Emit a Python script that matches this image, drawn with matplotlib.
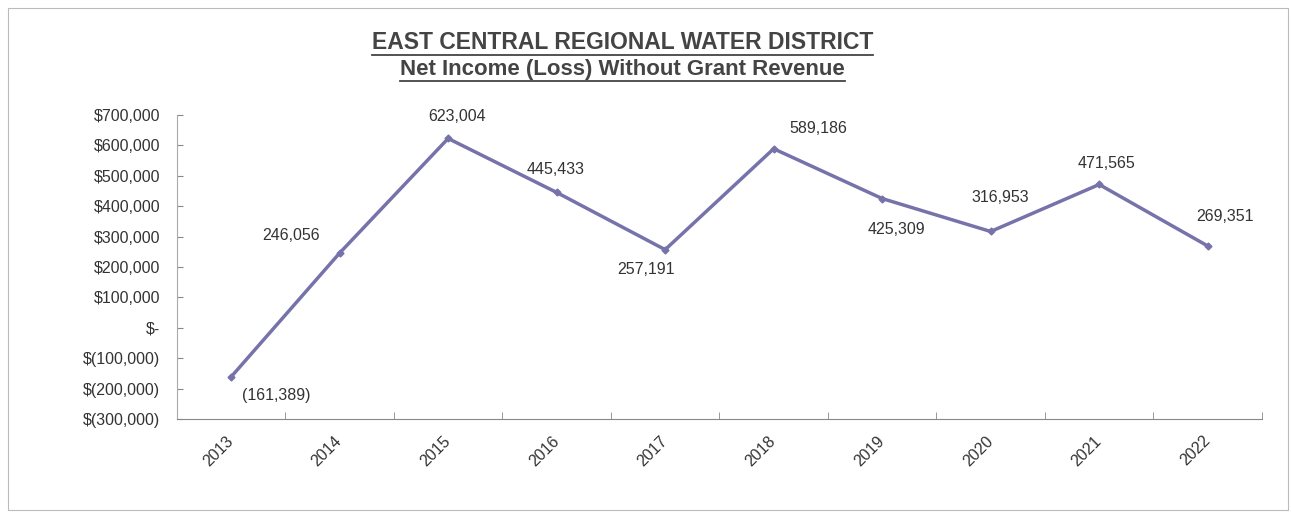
import matplotlib.pyplot as plt
from matplotlib.patches import Rectangle
from matplotlib.lines import Line2D

plt.rcParams['font.family'] = ['Liberation Sans', 'DejaVu Sans']

############## Dados ####################

years = ['2013', '2014', '2015', '2016', '2017', '2018', '2019', '2020', '2021', '2022']
net_income = [-161389, 246056, 623004, 445433, 257191, 589186, 425309, 316953, 471565, 269351]
label_offsets = [(45, -19), (-49, 18), (9, 22), (-1, 23), (-19, -20),
                 (45, 20), (14, -31), (10, 34), (7, 21), (17, 29)]
yticks = [-300000, -200000, -100000, 0, 100000, 200000, 300000, 400000, 500000, 600000, 700000]

title1 = 'EAST CENTRAL REGIONAL WATER DISTRICT'
title2 = 'Net Income (Loss) Without Grant Revenue'

############## Dados ####################


def money(v):
    if v == 0:
        return '$-'
    if v < 0:
        return '$({:,})'.format(-v)
    return '${:,}'.format(v)


def accounting(v):
    if v < 0:
        return '({:,})'.format(-v)
    return '{:,}'.format(v)


fig = plt.figure(figsize=(12.91, 5.16), dpi=100)
ax = fig.add_axes([0.137, 0.188, 0.8405, 0.589])

x = list(range(len(years)))
line_color = '#7673ab'
ax.plot(x, net_income, color=line_color, linewidth=2.5, marker='D', markersize=3.5,
        markerfacecolor=line_color, markeredgecolor=line_color)

for i, v in enumerate(net_income):
    ax.annotate(accounting(v), xy=(i, v), xytext=label_offsets[i], textcoords='offset pixels',
                ha='center', va='center', fontsize=11.5, color='#333333')

ax.set_xlim(-0.5, len(years) - 0.5)
ax.set_ylim(-300000, 700000)
ax.set_yticks(yticks)
ax.set_yticklabels([money(v) for v in yticks], fontsize=11.5, color='#333333')
ax.set_xticks(x)
ax.set_xticklabels(years, rotation=45, fontsize=11.5, color='#333333', ha='right',
                   va='center', rotation_mode='anchor')
ax.tick_params(axis='x', which='major', length=0, pad=14)
ax.set_xticks([i + 0.5 for i in range(-1, len(years))], minor=True)
ax.tick_params(axis='x', which='minor', length=5, direction='in', color='#888888')
ax.tick_params(axis='y', length=4, direction='in', color='#888888', pad=12)

for side in ['top', 'right']:
    ax.spines[side].set_visible(False)
ax.spines['left'].set_color('#aaaaaa')
ax.spines['bottom'].set_color('#888888')
ax.spines['left'].set_linewidth(0.8)
ax.spines['bottom'].set_linewidth(0.8)

# borda da figura
fig.patches.append(Rectangle((0.006, 0.012), 0.992, 0.973, transform=fig.transFigure,
                             fill=False, edgecolor='#bbbbbb', linewidth=0.8))

t1 = fig.text(0.482, 0.918, title1, ha='center', va='center', fontsize=16.5,
              fontweight='bold', color='#444444')
t2 = fig.text(0.482, 0.866, title2, ha='center', va='center', fontsize=16,
              fontweight='bold', color='#444444')

# sublinhado dos títulos
fig.canvas.draw()
renderer = fig.canvas.get_renderer()
W, H = fig.canvas.get_width_height()
for t in [t1, t2]:
    bb = t.get_window_extent(renderer)
    yline = (bb.y0 - 1) / H
    fig.lines.append(Line2D([bb.x0 / W, bb.x1 / W], [yline, yline], transform=fig.transFigure,
                            color='#444444', linewidth=1.3))

fig.savefig('out.png', dpi=100)
